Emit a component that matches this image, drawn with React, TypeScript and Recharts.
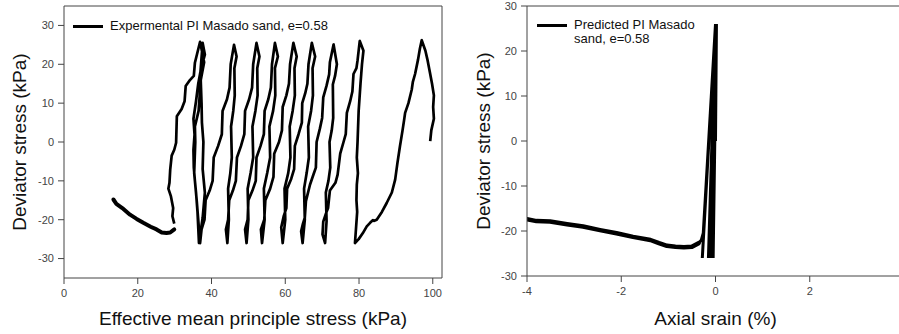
import { Legend, Line, LineChart, ReferenceLine, XAxis, YAxis } from "recharts";

const FONT = '"Liberation Sans", Arial, sans-serif';
const AXIS = "#444";

// experimental stress path, cyclic part: p' (kPa) and q (kPa)
const expP = [
  99.3, 99.6, 100.3, 100.1, 100.3, 99.8, 99.2, 98.6, 98.0, 97.0,
  96.5, 96.0, 95.2, 94.6, 94.3, 93.4, 92.5, 92.2, 91.8, 91.1, 90.4, 89.8, 88.9, 87.5, 86.2, 84.8, 84.0, 83.8, 83.0, 82.1, 81.0, 79.9, 78.9,
  79.2, 79.5, 79.3, 79.4, 79.7, 79.4, 79.6, 79.9, 80.4, 80.6, 80.8, 81.2,
  80.2, 79.6, 79.3, 78.5, 78.2, 77.6, 76.7, 76.4, 75.8, 74.9, 74.2, 73.6, 72.1, 71.6, 71.0, 70.3, 70.1,
  70.8, 71.2, 71.0, 71.7, 72.2, 72.0, 72.6, 73.0, 72.9, 73.5, 74.0,
  73.1, 72.1, 71.9, 71.2, 70.3, 70.0, 69.4, 68.5, 68.3, 67.6, 66.7, 65.6, 65.3, 64.8, 64.3,
  64.7, 65.3, 65.1, 65.8, 66.4, 66.2, 67.0, 67.5, 67.4, 68.1,
  67.2, 66.3, 66.0, 65.4, 64.6, 64.5, 63.6, 62.6, 62.4, 61.6, 60.5, 60.3, 59.6, 58.9,
  59.3, 60.0, 59.8, 60.8, 61.4, 61.2, 62.0, 62.6, 62.5, 63.1,
  62.2, 61.3, 61.0, 60.3, 59.3, 59.1, 58.3, 57.0, 56.8, 55.9, 54.6, 54.3, 53.4,
  53.7, 54.4, 54.2, 55.1, 55.9, 55.7, 56.7, 57.3, 57.2, 58.0,
  57.2, 56.4, 56.1, 55.4, 54.4, 54.2, 53.3, 52.2, 52.0, 51.1, 50.0, 49.8, 49.1,
  49.5, 50.0, 49.8, 50.6, 51.3, 51.1, 51.9, 52.5, 52.4, 53.0,
  52.2, 51.3, 51.0, 50.2, 49.1, 48.9, 48.0, 46.9, 46.6, 45.8, 44.8, 44.5, 43.9,
  44.3, 44.7, 44.5, 45.1, 45.5, 45.3, 45.9, 46.3, 46.2, 46.8,
  46.1, 45.2, 44.9, 44.2, 43.0, 42.8, 41.8, 40.6, 40.3, 39.5, 38.4, 38.1, 37.3,
  36.9, 36.0, 35.5, 35.2, 35.1, 35.4, 35.1, 35.8, 36.4, 37.2, 38.2,
  37.6, 37.0, 37.3, 37.4, 37.8, 37.6, 38.2, 37.6,
  36.6, 36.2, 35.8, 35.3, 35.6, 35.5, 36.5, 37.1, 38.0,
  36.9, 35.5, 35.2, 34.2, 33.0, 32.7, 31.9, 30.6, 30.4, 29.9, 29.2, 28.8, 28.6, 28.3, 29.0, 29.6, 29.4, 29.9,
];
const expQ = [
  0.2, 3, 6, 9, 12, 15, 18, 21, 23.5, 26.2,
  24, 21.2, 17.5, 15.5, 13.5, 10, 7.5, 5.5, 3, -1.1, -5.5, -9.7, -13, -15.7, -18, -20, -20.3, -20.1, -20.8, -21.7, -23.5, -25, -26,
  -22, -18, -15, -11, -8, -4, 0, 8, 15, 17.5, 20, 23.5, 26,
  21, 19, 17.5, 13, 10.5, 7.5, 2, 0, -3, -8.4, -10.5, -12.5, -17, -18.5, -20.5, -23.8, -26,
  -20.4, -13, -10, -6.6, 0, 3, 6.2, 14.8, 17, 20, 25.1,
  20.5, 17.4, 14.5, 11.5, 6.2, 3.5, 0, -6.6, -8.5, -11, -15.2, -19.5, -21, -23, -26,
  -20, -12, -8, -4, 4, 8, 12, 19, 22, 25.5,
  20, 15, 12.5, 10, 5, 2, -1, -7, -9.5, -12, -17, -19, -22, -26,
  -20, -12, -8, -4, 4, 8, 12, 19, 22, 25.5,
  20, 15, 12, 9, 3, 0, -3, -9, -12, -15, -20, -22.5, -26,
  -20, -12, -8, -4, 4, 8, 12, 19, 22, 25.5,
  20, 14, 11, 8, 2, -1, -4, -10, -12.5, -15, -20, -22.5, -26,
  -20, -12, -8, -4, 4, 8, 12, 19, 22, 25.5,
  20, 14, 11, 8, 2, -1, -4, -10, -12.5, -15, -20, -22.5, -26,
  -20, -12, -8, -4, 4, 8, 12, 19, 22, 25,
  20, 14, 11, 8, 2, -1, -4, -10, -12.5, -15, -20, -22.5, -26,
  -15.2, -10, -6.6, -2, 1.9, 6, 10.5, 15, 19.1, 22.5, 25.5,
  18, 10, 5, 0, -7, -13, -19.5, -26,
  -18, -13, -8, 0, 4, 8, 16, 20.5, 25.8,
  20.4, 17, 16, 14.4, 10.5, 8.5, 6.6, -0.2, -2, -3.5, -7.1, -10.5, -12, -14, -17, -19.1, -21, -22.5,
];
// flow part after the last cycle
const expTailP = [29.9, 28.8, 27.8, 26.5, 25.1, 23.5, 21.5, 19.7, 17.9, 15.8, 14.2, 13.4];
const expTailQ = [-22.5, -23.3, -23.4, -23.3, -22.5, -21.8, -20.8, -19.8, -18.7, -17, -15.9, -14.8];

// predicted: axial strain (%) and q (kPa)
const predStrain = [
  0, 0.02, -0.05, 0.02, -0.06, 0.02, -0.07, 0.01, -0.09, 0.01, -0.11, 0.01, -0.13,
  0.0, -0.15, 0.0, -0.28, 0.0, -0.26, -0.3, -0.36,
];
const predQ = [
  0, 26, -26, 26, -26, 26, -26, 26, -26, 26, -26, 26, -26,
  26, -26, 26, -26, 26, -20.5, -22, -22.7,
];
const predTailStrain = [-0.36, -0.5, -0.67, -0.85, -1.03, -1.2, -1.38, -1.75, -2.1, -2.45, -2.81, -3.15, -3.51, -3.8, -4.0];
const predTailQ = [-22.7, -23.5, -23.6, -23.5, -23.3, -22.7, -22.0, -21.3, -20.5, -19.8, -19.0, -18.5, -17.9, -17.8, -17.4];

const pTicks = [0, 20, 40, 60, 80, 100];
const qTicksLeft = [-30, -20, -10, 0, 10, 20, 30];
const strainTicks = [-4, -2, 0, 2];
const qTicksRight = [-30, -20, -10, 0, 10, 20, 30];

const expRows = expP.map((p, i) => ({ x: p, y: expQ[i] }));
const expTailRows = expTailP.map((p, i) => ({ x: p, y: expTailQ[i] }));
const predRows = predStrain.map((s, i) => ({ x: s, y: predQ[i] }));
const predTailRows = predTailStrain.map((s, i) => ({ x: s, y: predTailQ[i] }));

const tickStyle = { fill: AXIS, fontSize: 11, fontFamily: FONT };
const titleProps = { fontSize: 19, fill: "#111", fontFamily: FONT };

const LegendBox = ({ lines }: { lines: string[] }) => (
  <div
    style={{
      display: "flex",
      alignItems: "flex-start",
      fontFamily: FONT,
      fontSize: 13,
      lineHeight: "14.5px",
      color: "#111",
      whiteSpace: "nowrap",
    }}
  >
    <svg width={30} height={15} style={{ marginRight: 7, flex: "none" }}>
      <line x1={0} x2={30} y1={7.5} y2={7.5} stroke="#000" strokeWidth={3} />
    </svg>
    <div>
      {lines.map((l) => (
        <div key={l}>{l}</div>
      ))}
    </div>
  </div>
);

export default function App() {
  return (
    <div
      style={{
        position: "absolute",
        left: 0,
        top: 0,
        width: 899,
        height: 334,
        overflow: "hidden",
        background: "#fff",
      }}
    >
      <div style={{ position: "absolute", left: 0, top: 0 }}>
        <LineChart width={450} height={334} margin={{ top: 6, right: 8, bottom: 0, left: 8 }}>
          <XAxis
            dataKey="x"
            type="number"
            domain={[0, 102.5]}
            ticks={pTicks}
            interval={0}
            allowDataOverflow
            height={56}
            tickSize={6}
            tickMargin={5}
            stroke={AXIS}
            tick={tickStyle}
            label={{
              value: "Effective mean principle stress (kPa)",
              position: "insideBottom",
              offset: 9,
              ...titleProps,
            }}
          />
          <YAxis
            dataKey="y"
            type="number"
            domain={[-35, 35]}
            ticks={qTicksLeft}
            interval={0}
            allowDataOverflow
            width={56}
            tickSize={6}
            tickMargin={4}
            stroke={AXIS}
            tick={tickStyle}
            label={{
              value: "Deviator stress (kPa)",
              angle: -90,
              position: "insideLeft",
              offset: 11.5,
              style: { textAnchor: "middle" },
              ...titleProps,
            }}
          />
          <ReferenceLine y={35} stroke={AXIS} />
          <ReferenceLine x={102.5} stroke={AXIS} />
          <Legend
            layout="vertical"
            align="center"
            verticalAlign="middle"
            wrapperStyle={{ top: 18.5, left: 73, width: "auto" }}
            content={() => <LegendBox lines={["Expermental PI Masado sand, e=0.58"]} />}
          />
          <Line
            data={expRows}
            dataKey="y"
            type="linear"
            stroke="#000"
            strokeWidth={2.7}
            strokeLinejoin="round"
            dot={false}
            isAnimationActive={false}
          />
          <Line
            data={expTailRows}
            dataKey="y"
            type="linear"
            stroke="#000"
            strokeWidth={4}
            strokeLinecap="round"
            strokeLinejoin="round"
            dot={false}
            isAnimationActive={false}
          />
        </LineChart>
      </div>
      <div style={{ position: "absolute", left: 450, top: 0 }}>
        <LineChart width={454} height={334} margin={{ top: 6, right: 0, bottom: 0, left: 21 }}>
          <XAxis
            dataKey="x"
            type="number"
            domain={[-4, 4]}
            ticks={strainTicks}
            interval={0}
            allowDataOverflow
            height={58}
            tickSize={6}
            tickMargin={5}
            stroke={AXIS}
            tick={tickStyle}
            label={{
              value: "Axial srain (%)",
              position: "insideBottom",
              offset: 9,
              ...titleProps,
            }}
          />
          <YAxis
            dataKey="y"
            type="number"
            domain={[-30, 30]}
            ticks={qTicksRight}
            interval={0}
            allowDataOverflow
            width={56}
            tickSize={6}
            tickMargin={4}
            stroke={AXIS}
            tick={tickStyle}
            label={{
              value: "Deviator stress (kPa)",
              angle: -90,
              position: "insideLeft",
              offset: 12.3,
              style: { textAnchor: "middle" },
              ...titleProps,
            }}
          />
          <ReferenceLine y={30} stroke={AXIS} />
          <Legend
            layout="vertical"
            align="center"
            verticalAlign="middle"
            wrapperStyle={{ top: 17.5, left: 87, width: "auto" }}
            content={() => <LegendBox lines={["Predicted PI Masado", "sand, e=0.58"]} />}
          />
          <Line
            data={predRows}
            dataKey="y"
            type="linear"
            stroke="#000"
            strokeWidth={3}
            dot={false}
            isAnimationActive={false}
          />
          <Line
            data={predTailRows}
            dataKey="y"
            type="linear"
            stroke="#000"
            strokeWidth={4.5}
            strokeLinecap="round"
            strokeLinejoin="round"
            dot={false}
            isAnimationActive={false}
          />
        </LineChart>
      </div>
    </div>
  );
}
